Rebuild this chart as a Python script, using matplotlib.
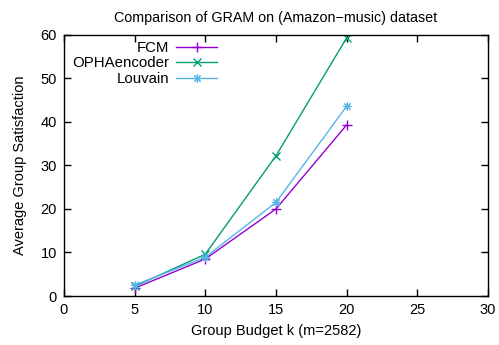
import numpy as np
import matplotlib.pyplot as plt

plt.rcParams['font.family'] = ['Liberation Sans', 'DejaVu Sans']
plt.rcParams['font.size'] = 10.5

budgets = [5, 10, 15, 20]
fcm = [1.8, 8.5, 20.0, 39.3]
opha = [2.2, 9.6, 32.2, 59.3]
louvain = [2.5, 8.9, 21.5, 43.6]

fig = plt.figure(figsize=(4.99, 3.45), dpi=100)
ax = fig.add_axes([0.128, 0.142, 0.85, 0.757])

ax.plot(budgets, fcm, color='#9400D3', lw=1, marker='+', ms=7, mew=1, label='FCM')
ax.plot(budgets, opha, color='#009E73', lw=1, marker='x', ms=6, mew=1, label='OPHAencoder')
ax.plot(budgets, louvain, color='#56B4E9', lw=1, marker=(8, 2, 0), ms=6, mew=0.8, label='Louvain')

ax.set_xlim(0, 30)
ax.set_ylim(0, 60)
ax.set_xticks(np.arange(0, 31, 5))
ax.set_yticks(np.arange(0, 61, 10))
ax.tick_params(direction='in', length=5, width=1, top=True, right=True, pad=5)
for s in ax.spines.values():
    s.set_linewidth(1)

ax.set_title('Comparison of GRAM on (Amazon\u2212music) dataset', fontsize=10.3, pad=9)
ax.set_xlabel('Group Budget k (m=2582)', labelpad=5)
ax.set_ylabel('Average Group Satisfaction', labelpad=10)

ax.legend(loc='upper left', frameon=False, markerfirst=False, numpoints=1,
          handlelength=2.7, handletextpad=0.5, labelspacing=0.1,
          borderaxespad=0.0, bbox_to_anchor=(0.005, 1.0), fontsize=10.8)

fig.savefig('out.png', dpi=100)
